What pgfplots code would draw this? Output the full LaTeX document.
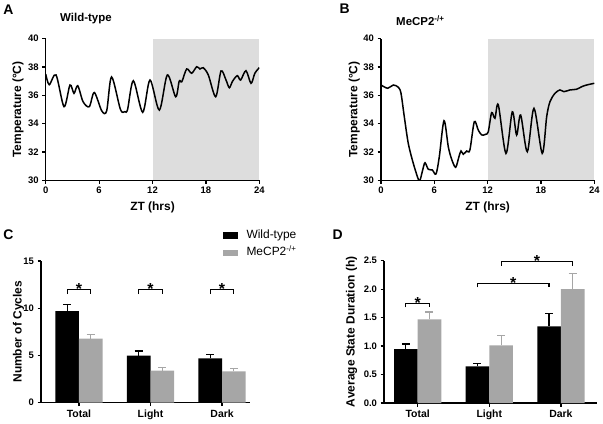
\documentclass[border=0pt]{standalone}
\usepackage{pgfplots}
\pgfplotsset{compat=1.18}
\usepackage{fontspec}
\setmainfont{Liberation Sans}
\definecolor{shade}{RGB}{221,221,221}
\definecolor{bargrey}{RGB}{166,166,166}
\tikzset{lab/.style={font=\bfseries\fontsize{12}{14}\selectfont}}
\pgfplotsset{
  panel/.style={
    scale only axis,
    anchor=south west,
    axis lines=left,
    axis line style={-, line width=1.2bp, black},
    tick align=outside,
    major tick length=3.5bp,
    tick style={line width=1.2bp, black},
    xticklabel={\pgfmathprintnumber{\tick}},
    yticklabel={\pgfmathprintnumber{\tick}},
    xticklabel style={font=\bfseries\fontsize{9.5}{10}\selectfont},
    yticklabel style={font=\bfseries\fontsize{9.5}{10}\selectfont},
    /pgf/number format/assume math mode=true,
  },
}
\begin{document}
\begin{tikzpicture}[x=1bp,y=1bp]
\useasboundingbox (0,0) rectangle (603,423);
% ---------- Panel A ----------
\begin{axis}[panel, at={(45.7bp,242.7bp)}, width=213.6bp, height=141.6bp,
  xmin=0, xmax=24, ymin=30, ymax=40,
  xtick={0,6,12,18,24}, ytick={30,32,34,36,38,40},
  axis on top,
  xlabel={ZT (hrs)}, ylabel={Temperature (°C)},
  every axis x label/.style={at={(axis description cs:0.5,-0.189)}, anchor=center, lab},
  every axis y label/.style={at={(axis description cs:-0.13,0.5)}, rotate=90, anchor=center, lab}]
\addplot[fill=shade, draw=none] coordinates {(12,30)(12,40)(24,40)(24,30)} -- cycle;
\addplot[smooth, tension=0.5, line width=1.5bp, black] coordinates {
(0,37.5)(0.4,36.75)(1.16,37.44)(2.06,35.2)(2.73,36.73)(3.18,36.14)(3.6,36.68)(4.2,35.55)(4.9,35.2)(5.46,36.2)(6.3,34.9)(6.85,34.9)(7.4,37.3)(8.4,35.0)(8.9,34.85)(9.2,35.0)(9.85,37.03)(10.9,34.8)(11.72,37.08)(12.77,34.96)(13.67,37.44)(14.6,35.9)(15.0,37.0)(15.3,36.97)(15.84,37.86)(16.4,37.56)(16.97,38.02)(17.34,37.86)(17.7,37.95)(18.27,37.44)(19.1,35.9)(19.7,37.72)(20.26,37.08)(20.63,36.54)(21.0,37.0)(21.53,37.39)(21.9,37.08)(22.5,37.74)(23.07,36.85)(23.5,37.56)(24,37.95)};
\end{axis}
% ---------- Panel B ----------
\begin{axis}[panel, at={(381bp,242.7bp)}, width=213.3bp, height=141.6bp,
  xmin=0, xmax=24, ymin=30, ymax=40,
  xtick={0,6,12,18,24}, ytick={30,32,34,36,38,40},
  axis on top,
  xlabel={ZT (hrs)}, ylabel={Temperature (°C)},
  every axis x label/.style={at={(axis description cs:0.5,-0.189)}, anchor=center, lab},
  every axis y label/.style={at={(axis description cs:-0.125,0.5)}, rotate=90, anchor=center, lab}]
\addplot[fill=shade, draw=none] coordinates {(12,30)(12,40)(24,40)(24,30)} -- cycle;
\addplot[smooth, tension=0.5, line width=1.5bp, black] coordinates {
(0,36.73)(0.75,36.5)(1.38,36.73)(1.95,36.57)(2.25,36.14)(2.62,34.49)(3.07,32.6)(3.63,31.2)(4.2,30.07)(4.39,30.0)(4.69,30.73)(4.95,31.24)(5.32,30.78)(5.77,30.73)(6.19,30.45)(6.56,31.67)(7.09,34.21)(7.57,32.37)(7.95,31.48)(8.4,30.92)(8.77,31.67)(9.0,32.07)(9.26,31.84)(9.64,32.07)(10.0,32.14)(10.5,34.14)(10.94,33.55)(11.33,33.2)(11.78,33.25)(12.07,33.43)(12.45,34.78)(12.82,34.38)(13.2,35.32)(14.06,31.9)(14.77,34.84)(15.26,33.2)(15.71,34.61)(16.46,32.02)(17.21,35.08)(18.14,31.9)(18.64,34.49)(19.01,35.55)(19.57,36.14)(20.13,36.38)(20.58,36.26)(21.26,36.38)(22.0,36.43)(22.58,36.61)(23.14,36.73)(24,36.85)};
\end{axis}
% ---------- Panel C ----------
\begin{axis}[panel, at={(41bp,20.5bp)}, width=209bp, height=141.5bp,
  clip=false,
  xmin=-0.53, xmax=2.39, ymin=0, ymax=15,
  xtick={0,1,2}, xticklabels={Total,Light,Dark}, ytick={0,5,10,15},
  xticklabel style={font=\bfseries\fontsize{10.5}{12}\selectfont},
  ylabel={Number of Cycles},
  every axis y label/.style={at={(axis description cs:-0.107,0.5)}, rotate=90, anchor=center, lab},
  legend cell align=left,
  legend image code/.code={\fill[#1] (0bp,-3.4bp) rectangle (14.7bp,3.4bp);},
  legend style={draw=none, fill=none, at={(0.869,1.119)}, anchor=west, inner sep=0pt,
    font=\fontsize{12}{14}\selectfont, row sep=3.5bp,
    nodes={inner sep=1bp, text height=9bp, text depth=3bp},
    /tikz/every odd column/.append style={column sep=8bp}}]
\addplot[ybar, bar width=0.33, bar shift=0pt, fill=black, draw=none,
  error bars/.cd, y dir=plus, y explicit,
  error bar style={line width=1.2bp, black},
  error mark options={rotate=90, line width=1.2bp, mark size=4bp, black}]
  coordinates {(-0.165,9.68) +- (0,0.74) (0.835,4.96) +- (0,0.5) (1.835,4.68) +- (0,0.39)};
\addlegendentry{Wild-type}
\addplot[ybar, bar width=0.33, bar shift=0pt, fill=bargrey, draw=none,
  error bars/.cd, y dir=plus, y explicit,
  error bar style={line width=1.2bp, bargrey},
  error mark options={rotate=90, line width=1.2bp, mark size=4bp, bargrey}]
  coordinates {(0.165,6.76) +- (0,0.49) (1.165,3.38) +- (0,0.32) (2.165,3.31) +- (0,0.28)};
\addlegendentry{MeCP2\textsuperscript{-/+}}
\addplot[forget plot, sharp plot, line width=1.2bp, black] coordinates {(-0.165,11.5)(-0.165,11.94)(0.165,11.94)(0.165,11.5)};
\addplot[forget plot, sharp plot, line width=1.2bp, black] coordinates {(0.835,11.5)(0.835,11.94)(1.165,11.94)(1.165,11.5)};
\addplot[forget plot, sharp plot, line width=1.2bp, black] coordinates {(1.835,11.5)(1.835,11.94)(2.165,11.94)(2.165,11.5)};
\node[font=\bfseries\fontsize{16}{16}\selectfont, anchor=base, inner sep=0pt, yshift=-5bp] at (axis cs:0,11.94) {*};
\node[font=\bfseries\fontsize{16}{16}\selectfont, anchor=base, inner sep=0pt, yshift=-5bp] at (axis cs:1,11.94) {*};
\node[font=\bfseries\fontsize{16}{16}\selectfont, anchor=base, inner sep=0pt, yshift=-5bp] at (axis cs:2,11.94) {*};
\end{axis}
% ---------- Panel D ----------
\begin{axis}[panel, at={(384bp,20bp)}, width=212.7bp, height=142.3bp,
  clip=false,
  xmin=-0.47, xmax=2.5, ymin=0, ymax=2.5,
  xtick={0,1,2}, xticklabels={Total,Light,Dark}, ytick={0,0.5,1,1.5,2,2.5},
  yticklabel style={/pgf/number format/.cd, fixed, fixed zerofill, precision=1},
  xticklabel style={font=\bfseries\fontsize{10.5}{12}\selectfont},
  ylabel={Average State Duration (h)},
  every axis y label/.style={at={(axis description cs:-0.152,0.5)}, rotate=90, anchor=center, lab}]
\addplot[ybar, bar width=0.33, bar shift=0pt, fill=black, draw=none,
  error bars/.cd, y dir=plus, y explicit,
  error bar style={line width=1.2bp, black},
  error mark options={rotate=90, line width=1.2bp, mark size=4bp, black}]
  coordinates {(-0.165,0.948) +- (0,0.088) (0.835,0.644) +- (0,0.056) (1.835,1.347) +- (0,0.223)};
\addplot[ybar, bar width=0.33, bar shift=0pt, fill=bargrey, draw=none,
  error bars/.cd, y dir=plus, y explicit,
  error bar style={line width=1.2bp, bargrey},
  error mark options={rotate=90, line width=1.2bp, mark size=4bp, bargrey}]
  coordinates {(0.165,1.47) +- (0,0.13) (1.165,1.013) +- (0,0.167) (2.165,2.0) +- (0,0.28)};
\addplot[sharp plot, line width=1.2bp, black] coordinates {(-0.165,1.68)(-0.165,1.75)(0.165,1.75)(0.165,1.68)};
\addplot[sharp plot, line width=1.2bp, black] coordinates {(0.835,2.03)(0.835,2.10)(1.835,2.10)(1.835,2.03)};
\addplot[sharp plot, line width=1.2bp, black] coordinates {(1.165,2.41)(1.165,2.48)(2.165,2.48)(2.165,2.41)};
\node[font=\bfseries\fontsize{16}{16}\selectfont, anchor=base, inner sep=0pt, yshift=-5bp] at (axis cs:0,1.75) {*};
\node[font=\bfseries\fontsize{16}{16}\selectfont, anchor=base, inner sep=0pt, yshift=-5bp] at (axis cs:1.335,2.10) {*};
\node[font=\bfseries\fontsize{16}{16}\selectfont, anchor=base, inner sep=0pt, yshift=-5bp] at (axis cs:1.665,2.48) {*};
\end{axis}
% ---------- Titles and panel letters ----------
\node[font=\bfseries\fontsize{11.5}{13}\selectfont, anchor=base west, inner sep=0pt] at (60,401.7) {Wild-type};
\node[font=\bfseries\fontsize{11.5}{13}\selectfont, anchor=base west, inner sep=0pt] at (396,397) {MeCP2\textsuperscript{-/+}};
\node[font=\bfseries\fontsize{14}{16}\selectfont, anchor=base west, inner sep=0pt] at (3.3,408) {A};
\node[font=\bfseries\fontsize{14}{16}\selectfont, anchor=base west, inner sep=0pt] at (339.3,409.7) {B};
\node[font=\bfseries\fontsize{14}{16}\selectfont, anchor=base west, inner sep=0pt] at (3.3,183.7) {C};
\node[font=\bfseries\fontsize{14}{16}\selectfont, anchor=base west, inner sep=0pt] at (332.3,183.7) {D};
\end{tikzpicture}
\end{document}
